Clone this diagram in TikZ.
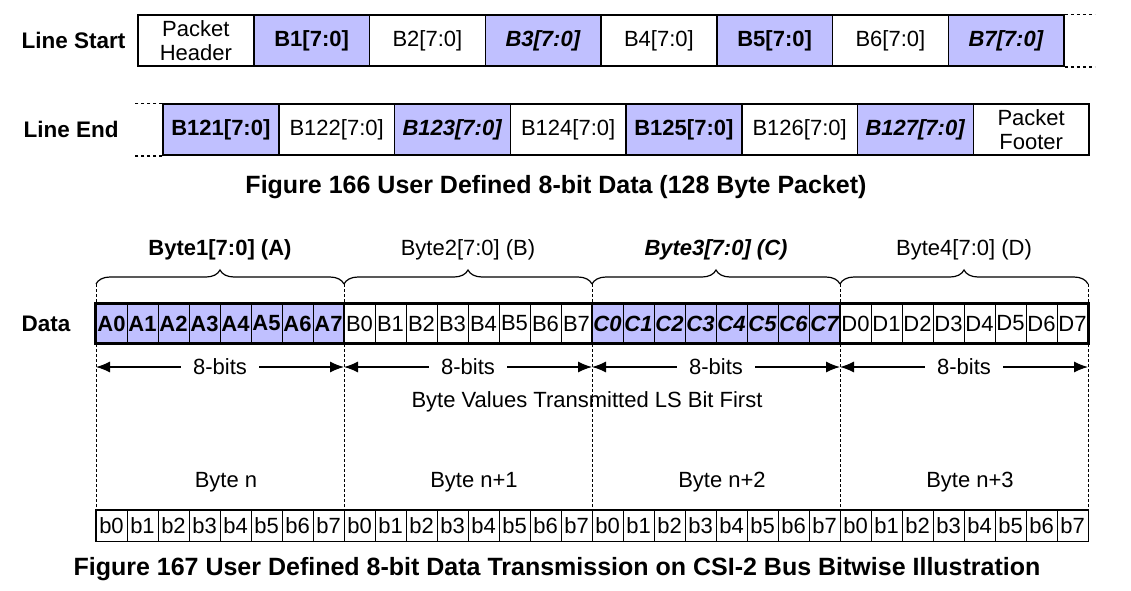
\documentclass[tikz,border=0pt]{standalone}
\usepackage{fontspec}
\setmainfont{Liberation Sans}
\usetikzlibrary{arrows.meta,decorations.pathreplacing}
\definecolor{lav}{RGB}{192,192,255}

\begin{document}
\begin{tikzpicture}[x=1pt,y=-1pt,font=\fontsize{22}{23.5}\selectfont,
    cell/.style={draw, line width=1.5pt, minimum width=115.75pt, minimum height=51pt, inner sep=0pt, align=center},
    bit/.style={draw, line width=1pt, minimum width=31pt, minimum height=39pt, inner sep=0pt},
    sbit/.style={draw, line width=1pt, minimum width=31pt, minimum height=31pt, inner sep=0pt},
    hl/.style={fill=lav},
    wt/.style={fill=white},
    rowlbl/.style={anchor=west, font=\fontsize{22.5}{24}\selectfont\bfseries},
    figcap/.style={font=\fontsize{25}{27}\selectfont\bfseries},
    dots/.style={line width=1.5pt, dash pattern=on 3pt off 3pt},
    guide/.style={line width=0.8pt, dash pattern=on 3pt off 2pt},
    brc/.style={decorate, decoration={brace, amplitude=14pt}, line width=1.2pt},
    dim/.style={{Latex[length=14pt,width=11pt]}-{Latex[length=14pt,width=11pt]}, line width=1.2pt}]
    \path[use as bounding box, fill=white] (0,0) rectangle (1131,590);

    % line start / line end
    \node[rowlbl] (lstart) at (18,40.5) {Line Start};
    \foreach \lbl/\sty [count=\i from 0] in {{Packet\\Header}/wt, {\textbf{B1[7:0]}}/hl, {B2[7:0]}/wt, {\textbf{\textit{B3[7:0]}}}/hl, {B4[7:0]}/wt, {\textbf{B5[7:0]}}/hl, {B6[7:0]}/wt, {\textbf{\textit{B7[7:0]}}}/hl}
        \node[cell,\sty] (ls\i) at ({138+115.75*(\i+0.5)},40.5) {\lbl};
    \draw[dots] (ls7.north east) -- ++(30,0);
    \draw[dots] (ls7.south east) -- ++(30,0);

    \node[rowlbl] (lend) at (20,129.5) {Line End};
    \foreach \lbl/\sty [count=\i from 0] in {{\textbf{B121[7:0]}}/hl, {B122[7:0]}/wt, {\textbf{\textit{B123[7:0]}}}/hl, {B124[7:0]}/wt, {\textbf{B125[7:0]}}/hl, {B126[7:0]}/wt, {\textbf{\textit{B127[7:0]}}}/hl, {Packet\\Footer}/wt}
        \node[cell,\sty] (le\i) at ({163+115.75*(\i+0.5)},129.5) {\lbl};
    \draw[dots] (le0.north west) -- ++(-27,0);
    \draw[dots] (le0.south west) -- ++(-27,0);

    \node[figcap] (cap1) at (556,187) {Figure 166 User Defined 8-bit Data (128 Byte Packet)};

    % bytes on the bus
    \foreach \j in {0,...,4} {
        \coordinate (g\j) at ({96+248*\j},284);
        \coordinate (f\j) at ({96+248*\j},510);
        \coordinate (a\j) at ({96+248*\j},367);
        \draw[guide] (g\j) -- (f\j);
    }
    \foreach \lbl [count=\j from 0] in {{\textbf{Byte1[7:0] (A)}}, {Byte2[7:0] (B)}, {\textbf{\textit{Byte3[7:0] (C)}}}, {Byte4[7:0] (D)}} {
        \pgfmathtruncatemacro\jj{\j+1}
        \draw[brc] (g\j) -- (g\jj);
        \node (hd\j) at ({220+248*\j},250) {\lbl};
        \draw[dim] (a\j) -- (a\jj) node[midway, fill=white, inner xsep=12pt] (w\j) {8-bits};
    }

    \node[rowlbl] (data) at (18,323.5) {Data};
    \foreach \ch/\fnt/\sty [count=\j from 0] in {A/\bfseries/hl, B/\relax/wt, C/\bfseries\itshape/hl, D/\relax/wt}
        \foreach \k in {0,...,7}
            \node[bit,\sty] (d\j\k) at ({96+248*\j+31*(\k+0.5)},323.5) {\fnt\ch\k};
    \foreach \j in {1,2,3}
        \draw[line width=2pt] (d\j0.north west) -- (d\j0.south west);
    \draw[line width=2.5pt] (d00.north west) rectangle (d37.south east);

    \node (lsb) at (587,402) {Byte Values Transmitted LS Bit First};
    \foreach \lbl [count=\j from 0] in {Byte n, Byte n+1, Byte n+2, Byte n+3}
        \node (bn\j) at ({226+248*\j},482) {\lbl};

    \foreach \j in {0,...,3}
        \foreach \k in {0,...,7}
            \node[sbit,wt] (e\j\k) at ({96+248*\j+31*(\k+0.5)},525.5) {b\k};
    \draw[line width=1.5pt] (e00.north west) rectangle (e37.south east);

    \node[figcap] (cap2) at (557,569) {Figure 167 User Defined 8-bit Data Transmission on CSI-2 Bus Bitwise Illustration};
\end{tikzpicture}
\end{document}
